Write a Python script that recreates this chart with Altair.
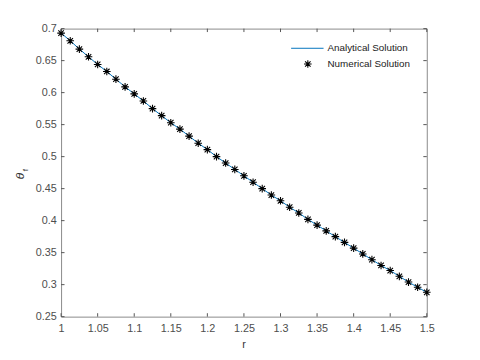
import altair as alt
import pandas as pd

# ---- data ----
r_values = [1.0, 1.0125, 1.025, 1.0375, 1.05, 1.0625, 1.075, 1.0875, 1.1, 1.1125,
            1.125, 1.1375, 1.15, 1.1625, 1.175, 1.1875, 1.2, 1.2125, 1.225, 1.2375,
            1.25, 1.2625, 1.275, 1.2875, 1.3, 1.3125, 1.325, 1.3375, 1.35, 1.3625,
            1.375, 1.3875, 1.4, 1.4125, 1.425, 1.4375, 1.45, 1.4625, 1.475, 1.4875, 1.5]
theta_values = [0.693, 0.681, 0.668, 0.656, 0.644, 0.633, 0.621, 0.609, 0.598, 0.587,
                0.575, 0.564, 0.553, 0.543, 0.532, 0.521, 0.511, 0.500, 0.490, 0.480,
                0.470, 0.460, 0.450, 0.440, 0.431, 0.421, 0.412, 0.402, 0.393, 0.384,
                0.375, 0.366, 0.357, 0.348, 0.339, 0.330, 0.322, 0.313, 0.304, 0.296, 0.288]
x_ticks = [1.0, 1.05, 1.1, 1.15, 1.2, 1.25, 1.3, 1.35, 1.4, 1.45, 1.5]
y_ticks = [0.25, 0.3, 0.35, 0.4, 0.45, 0.5, 0.55, 0.6, 0.65, 0.7]
legend_labels = ["Analytical Solution", "Numerical Solution"]

W, H = 372, 293
FONT = "Liberation Sans"
LINE_COLOR = "#0072BD"
ASTERISK = "M-1,0L1,0M0,-1L0,1M-0.72,-0.72L0.72,0.72M-0.72,0.72L0.72,-0.72"

df = pd.DataFrame({"r": r_values, "theta": theta_values})
xt = pd.DataFrame({"v": x_ticks})
yt = pd.DataFrame({"v": y_ticks})

xs = alt.Scale(domain=[1, 1.5], nice=False, zero=False)
ys = alt.Scale(domain=[0.25, 0.7], nice=False, zero=False)

xaxis = alt.Axis(values=x_ticks, format="~g", title=None, ticks=False, domain=False,
                 grid=False, labelPadding=6, labelOverlap=False, labelFlush=False)
yaxis = alt.Axis(values=y_ticks, format="~g", title=None, ticks=False, domain=False,
                 grid=False, labelPadding=5, labelOverlap=False, labelFlush=False)

line = alt.Chart(df).mark_line(color=LINE_COLOR, strokeWidth=1).encode(
    x=alt.X("r:Q", scale=xs, axis=xaxis),
    y=alt.Y("theta:Q", scale=ys, axis=yaxis),
)
pts = alt.Chart(df).mark_point(shape=ASTERISK, filled=False, stroke="black",
                               strokeWidth=1.1, size=60, opacity=1).encode(
    x=alt.X("r:Q", scale=xs, axis=xaxis),
    y=alt.Y("theta:Q", scale=ys, axis=yaxis),
)

TL = 3.5
tick_style = dict(color="#555555", strokeWidth=1)
bt = alt.Chart(xt).mark_rule(**tick_style).encode(
    x=alt.X("v:Q", scale=xs, axis=xaxis), y=alt.value(H), y2=alt.value(H - TL))
tt = alt.Chart(xt).mark_rule(**tick_style).encode(
    x=alt.X("v:Q", scale=xs, axis=xaxis), y=alt.value(0), y2=alt.value(TL))
lt = alt.Chart(yt).mark_rule(**tick_style).encode(
    y=alt.Y("v:Q", scale=ys, axis=yaxis), x=alt.value(0), x2=alt.value(TL))
rt = alt.Chart(yt).mark_rule(**tick_style).encode(
    y=alt.Y("v:Q", scale=ys, axis=yaxis), x=alt.value(W), x2=alt.value(W - TL))

one = pd.DataFrame({"a": [0]})
leg_line = alt.Chart(one).mark_rule(color=LINE_COLOR, strokeWidth=1).encode(
    x=alt.value(234), x2=alt.value(267), y=alt.value(20))
leg_pt = alt.Chart(one).mark_point(shape=ASTERISK, filled=False, stroke="black",
                                   strokeWidth=1.1, size=60, opacity=1).encode(
    x=alt.value(251), y=alt.value(36))
leg_t1 = alt.Chart(pd.DataFrame({"t": [legend_labels[0]]})).mark_text(
    font=FONT, fontSize=10, color="#1a1a1a", align="left", baseline="middle").encode(
    text="t:N", x=alt.value(271), y=alt.value(20))
leg_t2 = alt.Chart(pd.DataFrame({"t": [legend_labels[1]]})).mark_text(
    font=FONT, fontSize=10, color="#1a1a1a", align="left", baseline="middle").encode(
    text="t:N", x=alt.value(271), y=alt.value(36))

xtitle = alt.Chart(pd.DataFrame({"t": ["r"]})).mark_text(
    font=FONT, fontSize=11, color="#333333", align="center", baseline="middle").encode(
    text="t:N", x=alt.value(W / 2), y=alt.value(322))
ytitle = alt.Chart(pd.DataFrame({"t": ["θ"]})).mark_text(
    font=FONT, fontSize=12, fontStyle="italic", color="#333333", angle=270,
    align="center", baseline="middle").encode(
    text="t:N", x=alt.value(-42), y=alt.value(150))
ysub = alt.Chart(pd.DataFrame({"t": ["f"]})).mark_text(
    font=FONT, fontSize=8, color="#333333", angle=270,
    align="center", baseline="middle").encode(
    text="t:N", x=alt.value(-36), y=alt.value(144))

chart = alt.layer(line, pts, bt, tt, lt, rt, leg_line, leg_pt, leg_t1, leg_t2,
                  xtitle, ytitle, ysub).properties(
    width=W, height=H,
    padding={"left": 54, "top": 18, "right": 46, "bottom": 33},
    autosize="none",
).configure_view(stroke="#8a8a8a", strokeWidth=1).configure_axis(
    labelFont=FONT, labelFontSize=11, labelColor="#4d4d4d", labelOverlap=False
)

chart.save("out.html", embed_options={"renderer": "svg", "actions": False})
